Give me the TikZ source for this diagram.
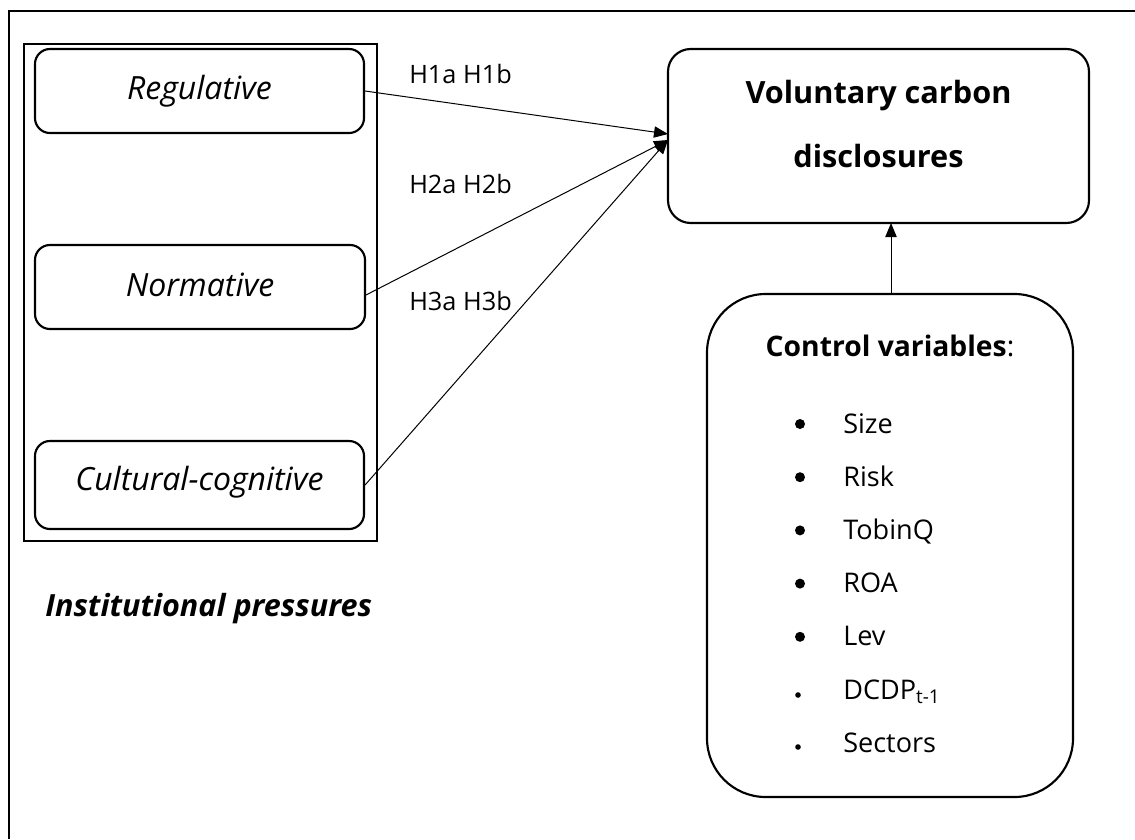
\documentclass[tikz,border=0pt]{standalone}
\usepackage{fontspec}
\setmainfont{Open Sans}
\usetikzlibrary{arrows.meta,fit}
\begin{document}
\begin{tikzpicture}[x=0.75pt,y=-0.75pt,
  frame/.style={line width=1.5pt},
  group/.style={draw, line width=2pt, inner sep=0pt},
  box/.style={draw, line width=1.6pt, rounded corners=11.25pt, inner sep=0pt},
  bigbox/.style={draw, line width=1.6pt, rounded corners=17pt, inner sep=0pt},
  ctrlbox/.style={draw, line width=1.6pt, rounded corners=44pt, inner sep=0pt},
  lab/.style={anchor=base, inner sep=0pt, font=\fontsize{24}{28}\selectfont\itshape},
  hyp/.style={anchor=base west, inner sep=0pt, font=\fontsize{19}{23}\selectfont},
  title/.style={anchor=base, inner sep=0pt, font=\fontsize{23}{27}\selectfont\bfseries},
  item/.style={anchor=base west, inner sep=0pt, font=\fontsize{20.3}{25}\selectfont},
  bul/.style={circle, fill, inner sep=0pt, minimum size=7.5pt},
  sbul/.style={circle, fill, inner sep=0pt, minimum size=4.2pt},
  conn/.style={line width=0.75pt, -{Triangle[length=10.5pt,width=8.5pt]}}
]
\useasboundingbox (0,0) rectangle (1135,839);
% outer frame (extends beyond the picture)
\draw[frame] (1135,11) -- (9,11) -- (9,839);

% institutional pressures group
\node[group, fit={(24,44) (377,541)}] (grp) {};
\node[box, fit={(35,49) (364,133)}] (reg) {};
\node[box, fit={(35,245) (365,329)}] (norm) {};
\node[box, fit={(35,441) (364,529)}] (cult) {};
\node[lab] (regt) at (199.5,99) {Regulative};
\node[lab] (normt) at (200,296) {Normative};
\node[lab] (cultt) at (199.5,490) {Cultural-cognitive};
\node[anchor=base west, inner sep=0pt, font=\fontsize{22.9}{27}\selectfont\bfseries\itshape] (inst) at (45,616) {Institutional pressures};

% dependent variable
\node[bigbox, fit={(668,49) (1089,223)}] (vcd) {};
\node[title] (vcd1) at (878.5,103) {Voluntary carbon};
\node[title] (vcd2) at (878.5,167) {disclosures};

% control variables
\node[ctrlbox, fit={(707,294) (1073,797)}] (ctrl) {};
\node[title, font=\fontsize{21.2}{25}\selectfont\bfseries] (ctrlt) at (890,356) {Control variables\mdseries:};
\foreach \t [count=\i] in {Size,Risk,TobinQ,ROA,Lev}{
  \node[item] (it\i) at (843,{433+53.2*(\i-1)}) {\t};
  \node[bul] (bu\i) at (800,{424+53.2*(\i-1)}) {};
}
\node[item] (it6) at (843,699) {DCDP\textsubscript{t-1}};
\node[sbul] (bu6) at (798,695) {};
\node[item] (it7) at (843,752) {Sectors};
\node[sbul] (bu7) at (798,747) {};

% hypotheses labels
\node[hyp] (h1) at (409,83) {H1a H1b};
\node[hyp] (h2) at (409,193) {H2a H2b};
\node[hyp] (h3) at (409,310) {H3a H3b};

% connectors
\coordinate (t1) at (668,134);
\coordinate (t2) at (668,140);
\coordinate (s2) at (366,295);
\draw[conn] (reg.east) -- (t1);
\draw[conn] (s2) -- (t2);
\draw[conn] (cult.east) -- (t2);
\draw[conn] (ctrl.north -| 891,0) -- (891,223);
\end{tikzpicture}
\end{document}
